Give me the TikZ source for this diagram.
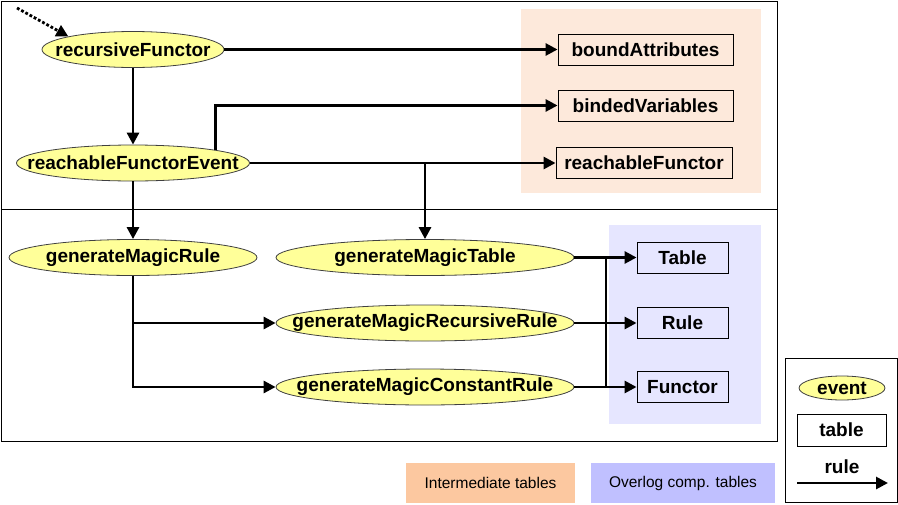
\documentclass[tikz,border=0pt]{standalone}
\usepackage{fontspec}
\setmainfont{Liberation Sans}
\usetikzlibrary{shapes.geometric,arrows.meta}
\definecolor{evfill}{RGB}{255,255,153}
\definecolor{peachbg}{RGB}{253,233,219}
\definecolor{lavbg}{RGB}{230,230,255}
\definecolor{peachlg}{RGB}{252,200,160}
\definecolor{lavlg}{RGB}{192,192,255}
\newcommand{\evtext}[1]{\makebox[0pt]{#1}}
\tikzset{
  event/.style={ellipse, draw=black!75, line width=0.8pt, fill=evfill, inner sep=0pt,
    minimum height=36pt, font=\bfseries\fontsize{19}{21}\selectfont},
  tablebox/.style={rectangle, draw=black, line width=0.9pt, inner sep=0pt,
    minimum height=31pt, font=\bfseries\fontsize{19}{21}\selectfont},
  arr/.style={line width=2.8pt, -{Triangle[length=12pt,width=12pt]}},
  bus/.style={line width=2.8pt},
  frame/.style={draw=black, line width=0.9pt},
  legendtext/.style={font=\fontsize{15.5}{18}\selectfont}
}
\begin{document}
\begin{tikzpicture}[x=1pt,y=-1pt]
\useasboundingbox (0,0) rectangle (898,504);
% backgrounds
\fill[peachbg] (521,9) rectangle (761,193);
\fill[lavbg] (609,225) rectangle (761,424);
\draw[frame] (1,1) rectangle (777,441);
\draw[frame] (1,209) -- (777,209);
% event nodes
\node[event, minimum width=182pt] (rf) at (133,49.5) {\evtext{recursiveFunctor}};
\node[event, minimum width=233pt] (rfe) at (133,163) {\evtext{reachableFunctorEvent}};
\node[event, minimum width=248pt] (gmr) at (133,257.5) {\evtext{generateMagicRule}};
\node[event, minimum width=298pt] (gmt) at (425,257.5) {\evtext{generateMagicTable}};
\node[event, minimum width=298pt] (gmrr) at (425,323) {\evtext{generateMagicRecursiveRule}};
\node[event, minimum width=298pt] (gmcr) at (425,387) {\evtext{generateMagicConstantRule}};
% table nodes
\node[tablebox, minimum width=175pt] (ba) at (645.5,49.5) {boundAttributes};
\node[tablebox, minimum width=175pt] (bv) at (645.5,105.5) {bindedVariables};
\node[tablebox, minimum width=176pt] (rfx) at (644,163) {reachableFunctor};
\node[tablebox, minimum width=91pt] (tab) at (682.5,257.5) {Table};
\node[tablebox, minimum width=91pt] (rul) at (682.5,323) {Rule};
\node[tablebox, minimum width=91pt] (fun) at (682.5,387) {Functor};
% connectors
\coordinate (start) at (17,8);
\draw[line width=2.8pt, dotted, -{Triangle[length=12pt,width=12pt]}] (start) -- (rf.north west);
\draw[arr] (rf) -- (ba);
\draw[arr] (rf) -- (rfe);
\draw[arr] (rfe.north east) |- (bv.west);
\draw[arr] (rfe) -- (rfx);
\draw[arr] (rfe) -| (gmt);
\draw[arr] (rfe) -- (gmr);
\draw[arr] (gmr) |- (gmrr);
\draw[arr] (gmr) |- (gmcr);
\draw[arr] (gmt) -- (tab);
\draw[arr] (gmrr) -- (rul);
\draw[arr] (gmcr) -- (fun);
\coordinate (busT) at (606,257.5);
\coordinate (busF) at (606,387);
\draw[bus] (busT) -- (busF);
% legend colour boxes
\node[fill=peachlg, minimum width=169pt, minimum height=40pt, inner sep=0pt, legendtext] (lgI) at (490.5,483) {Intermediate tables};
\node[fill=lavlg, minimum width=184pt, minimum height=40pt, inner sep=0pt, legendtext] (lgO) at (683,483) {Overlog comp. tables};
% legend
\draw[frame] (785,358) rectangle (897,502);
\node[event, minimum width=86pt, minimum height=24pt] (lgev) at (842,388) {\evtext{event}};
\node[tablebox, minimum width=89pt, minimum height=32pt] (lgtb) at (841.5,430) {table};
\node[font=\bfseries\fontsize{19}{21}\selectfont] (lgrule) at (842,467) {rule};
\coordinate (lgA) at (797,483);
\coordinate (lgB) at (888,483);
\draw[arr] (lgA) -- (lgB);
\end{tikzpicture}
\end{document}
